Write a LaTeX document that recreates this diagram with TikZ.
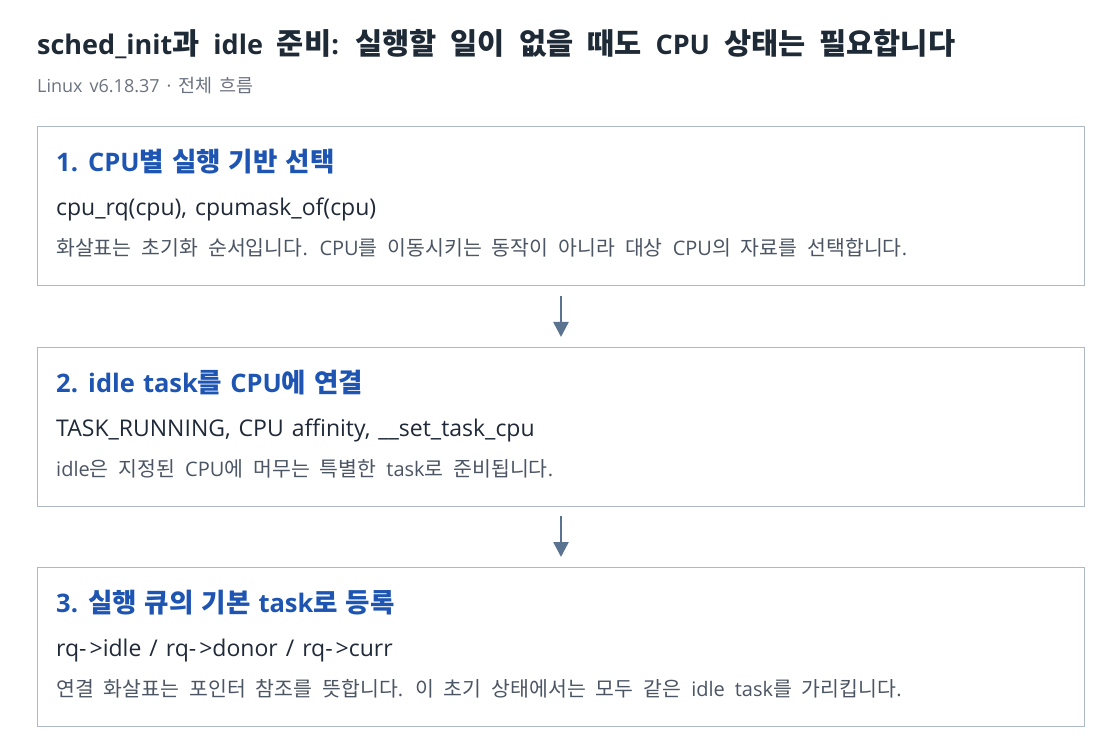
\documentclass[tikz,border=0pt]{standalone}
\usepackage{fontspec}
\setmainfont{Open Sans}
\newfontfamily\latfam{Open Sans}
\newfontfamily\krfam{Noto Sans CJK KR}
\def\latsz{20}
\def\krsz{20}
\newcommand\latfont{\latfam\fontsize{\latsz}{\latsz}\selectfont}
\newcommand\krfont{\krfam\fontsize{\krsz}{\krsz}\selectfont}
\XeTeXinterchartokenstate=1
\newXeTeXintercharclass\HangulClass
\count255="AC00
\loop
  \XeTeXcharclass\count255=\HangulClass
  \ifnum\count255<"D7A3 \advance\count255 by 1 \repeat
\XeTeXinterchartoks 0 \HangulClass = {\krfont}
\XeTeXinterchartoks 4095 \HangulClass = {\krfont}
\XeTeXinterchartoks \HangulClass 0 = {\latfont}
\XeTeXinterchartoks \HangulClass 4095 = {\latfont}
\newcommand\arr{-\kern3pt>}
\usetikzlibrary{arrows.meta}
\definecolor{titlecol}{HTML}{1F2A37}
\definecolor{subcol}{HTML}{6B7280}
\definecolor{headcol}{HTML}{1E55B3}
\definecolor{codecol}{HTML}{1F2937}
\definecolor{desccol}{HTML}{4B5563}
\definecolor{boxcol}{HTML}{AEB8C6}
\definecolor{arrcol}{HTML}{5A7391}
\tikzset{
  stepbox/.style={draw=boxcol, line width=1pt, fill=white},
  titletext/.style={anchor=base west, inner sep=0pt, text=titlecol,
    font={\def\latsz{27}\def\krsz{29.5}\bfseries\latfont\spaceskip=14pt}},
  subtext/.style={anchor=base west, inner sep=0pt, text=subcol,
    font={\def\latsz{18}\def\krsz{18.5}\latfont\spaceskip=7pt}},
  headtext/.style={anchor=base west, inner sep=0pt, text=headcol,
    font={\def\latsz{25.5}\def\krsz{26.5}\bfseries\latfont\spaceskip=8pt}},
  codetext/.style={anchor=base west, inner sep=0pt, text=codecol,
    font={\def\latsz{23}\def\krsz{23}\latfont\spaceskip=8pt}},
  desctext/.style={anchor=base west, inner sep=0pt, text=desccol,
    font={\def\latsz{20}\def\krsz{20.5}\latfont\spaceskip=10pt}},
  flowarrow/.style={draw=arrcol, line width=2.5pt, -{Triangle[length=15pt,width=15pt]}}
}
\begin{document}
\begin{tikzpicture}[x=1pt,y=-1pt]
\useasboundingbox (0,0) rectangle (1120,754);
\node[titletext] (title) at (37,55) {sched\_init과 idle 준비: 실행할 일이 없을 때도 CPU 상태는 필요합니다};
\node[subtext] (sub) at (37,93) {Linux v6.18.37 · 전체 흐름};

\path[stepbox] (37,127) rectangle (1084,286);
\coordinate (b1top) at (561,127); \coordinate (b1bot) at (561,286);
\node[headtext] (h1) at (56,172) {1. CPU별 실행 기반 선택};
\node[codetext] (c1) at (56,216) {cpu\_rq(cpu), cpumask\_of(cpu)};
\node[desctext] (d1) at (56,256) {화살표는 초기화 순서입니다. CPU를 이동시키는 동작이 아니라 대상 CPU의 자료를 선택합니다.};

\path[stepbox] (37,347) rectangle (1084,506);
\coordinate (b2top) at (561,347); \coordinate (b2bot) at (561,506);
\node[headtext] (h2) at (56,392) {2. idle task를 CPU에 연결};
\node[codetext] (c2) at (56,436) {TASK\_RUNNING, CPU affinity, \_\_set\_task\_cpu};
\node[desctext] (d2) at (56,476) {idle은 지정된 CPU에 머무는 특별한 task로 준비됩니다.};

\path[stepbox] (37,567) rectangle (1084,726);
\coordinate (b3top) at (561,567);
\node[headtext] (h3) at (56,612) {3. 실행 큐의 기본 task로 등록};
\node[codetext] (c3) at (56,656) {rq\arr idle / rq\arr donor / rq\arr curr};
\node[desctext] (d3) at (56,696) {연결 화살표는 포인터 참조를 뜻합니다. 이 초기 상태에서는 모두 같은 idle task를 가리킵니다.};

\draw[flowarrow] ([yshift=-10pt]b1bot) -- ([yshift=10pt]b2top);
\draw[flowarrow] ([yshift=-10pt]b2bot) -- ([yshift=10pt]b3top);
\end{tikzpicture}
\end{document}
